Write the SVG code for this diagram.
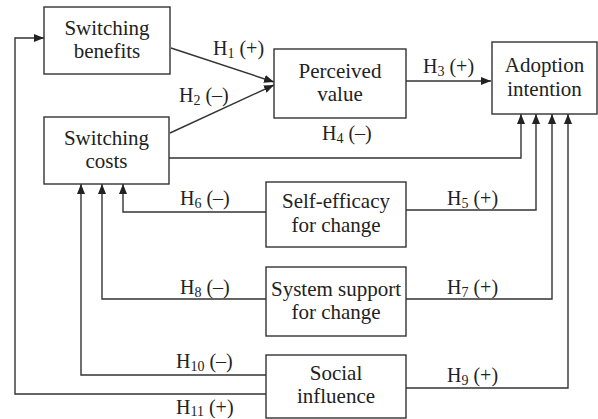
<svg xmlns="http://www.w3.org/2000/svg" width="598" height="419" viewBox="0 0 598 419">
<defs>
<marker id="ah" viewBox="0 0 10 8" refX="10" refY="4" markerWidth="10" markerHeight="8" markerUnits="userSpaceOnUse" orient="auto">
<path d="M0,0 L10,4 L0,8 Z" fill="#222"/>
</marker>
</defs>
<style>
text{font-family:'Liberation Serif','DejaVu Serif','Times New Roman',serif}
.box{fill:#fff;stroke:#333;stroke-width:1.4}
.t{font-size:21px;fill:#222;text-anchor:middle}
.l{font-size:20px;fill:#222}
.s{font-size:14px}
.c{fill:none;stroke:#333;stroke-width:1.4}
.a{marker-end:url(#ah)}
</style>
<rect width="598" height="419" fill="#fff"/>
<g id="connectors" font-family="Liberation Serif, serif">
<line class="c a" x1="171" y1="48" x2="274" y2="82"/>
<line class="c a" x1="170" y1="133" x2="274" y2="85"/>
<line class="c a" x1="406" y1="81" x2="491" y2="81"/>
<polyline class="c a" points="169,158 521,158 521,114"/>
<polyline class="c a" points="406,210 536,210 536,114"/>
<polyline class="c a" points="266,212 123,212 123,184"/>
<polyline class="c a" points="406,299 552,299 552,114"/>
<polyline class="c a" points="266,299 102,299 102,184"/>
<polyline class="c a" points="406,388 568,388 568,114"/>
<polyline class="c a" points="266,375 81,375 81,184"/>
<polyline class="c a" points="266,394 15,394 15,38 44,38"/>
<text class="l" x="213" y="55">H<tspan class="s" dy="3">1</tspan><tspan dy="-3"> (+)</tspan></text>
<text class="l" x="179" y="102">H<tspan class="s" dy="3">2</tspan><tspan dy="-3"> (–)</tspan></text>
<text class="l" x="423" y="73">H<tspan class="s" dy="3">3</tspan><tspan dy="-3"> (+)</tspan></text>
<text class="l" x="322" y="140">H<tspan class="s" dy="3">4</tspan><tspan dy="-3"> (–)</tspan></text>
<text class="l" x="447" y="205">H<tspan class="s" dy="3">5</tspan><tspan dy="-3"> (+)</tspan></text>
<text class="l" x="180" y="205">H<tspan class="s" dy="3">6</tspan><tspan dy="-3"> (–)</tspan></text>
<text class="l" x="447" y="294">H<tspan class="s" dy="3">7</tspan><tspan dy="-3"> (+)</tspan></text>
<text class="l" x="180" y="294">H<tspan class="s" dy="3">8</tspan><tspan dy="-3"> (–)</tspan></text>
<text class="l" x="447" y="382">H<tspan class="s" dy="3">9</tspan><tspan dy="-3"> (+)</tspan></text>
<text class="l" x="176" y="368">H<tspan class="s" dy="3">10</tspan><tspan dy="-3"> (–)</tspan></text>
<text class="l" x="176" y="414">H<tspan class="s" dy="2">11</tspan><tspan dy="-2"> (+)</tspan></text>
</g>
<g id="switching-benefits">
<rect class="box" x="44" y="7" width="126" height="67"/>
<text class="t" x="107" y="35">Switching</text>
<text class="t" x="107" y="58">benefits</text>
</g>
<g id="switching-costs">
<rect class="box" x="44" y="117" width="125" height="67"/>
<text class="t" x="106.5" y="145">Switching</text>
<text class="t" x="106.5" y="168">costs</text>
</g>
<g id="perceived-value">
<rect class="box" x="274" y="49" width="132" height="69"/>
<text class="t" x="340" y="78">Perceived</text>
<text class="t" x="340" y="101">value</text>
</g>
<g id="adoption-intention">
<rect class="box" x="492" y="42" width="105" height="72"/>
<text class="t" x="544.5" y="72">Adoption</text>
<text class="t" x="544.5" y="96">intention</text>
</g>
<g id="self-efficacy">
<rect class="box" x="266" y="182" width="140" height="65"/>
<text class="t" x="336" y="208">Self-efficacy</text>
<text class="t" x="336" y="232">for change</text>
</g>
<g id="system-support">
<rect class="box" x="266" y="267" width="140" height="69"/>
<text class="t" x="336" y="296">System support</text>
<text class="t" x="336" y="319">for change</text>
</g>
<g id="social-influence">
<rect class="box" x="266" y="355" width="140" height="63"/>
<text class="t" x="336" y="380">Social</text>
<text class="t" x="336" y="403">influence</text>
</g>
</svg>
